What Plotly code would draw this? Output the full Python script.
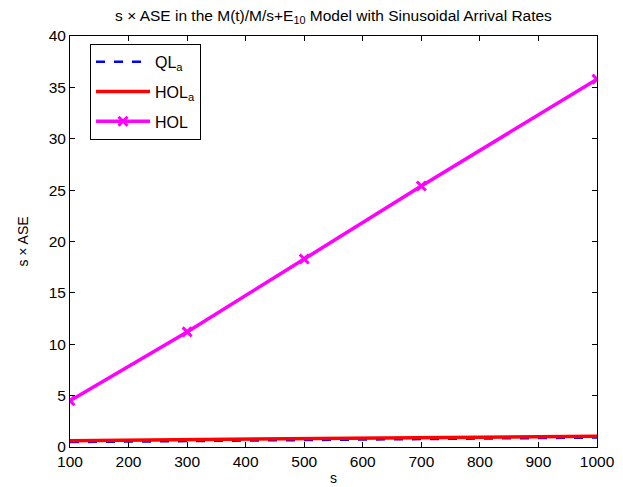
import plotly.graph_objects as go

s_vals = [100, 300, 500, 700, 1000]
ql_a = [0.48, 0.58, 0.68, 0.77, 0.92]
hol_a = [0.62, 0.72, 0.82, 0.91, 1.05]
hol = [4.5, 11.2, 18.3, 25.4, 35.8]

x_ticks = [100, 200, 300, 400, 500, 600, 700, 800, 900, 1000]
y_ticks = [0, 5, 10, 15, 20, 25, 30, 35, 40]

fig = go.Figure()
fig.add_trace(go.Scatter(x=s_vals, y=ql_a, mode="lines", name="QL<sub>a</sub>",
                         legendgroup="g1",
                         line=dict(color="#0000FF", width=2.5, dash="dash")))
fig.add_trace(go.Scatter(x=s_vals, y=hol_a, mode="lines", name="HOL<sub>a</sub>",
                         legendgroup="g2",
                         line=dict(color="#FF0000", width=3.5)))
fig.add_trace(go.Scatter(x=s_vals, y=hol, mode="lines+markers", name="HOL",
                         legendgroup="g3",
                         line=dict(color="#FF00FF", width=3.5),
                         marker=dict(symbol="x-thin", size=9, color="#FF00FF",
                                     line=dict(color="#FF00FF", width=3))))

axis_common = dict(showline=True, linecolor="black", linewidth=1, mirror="ticks",
                   ticks="inside", ticklen=5, tickcolor="black", showgrid=False,
                   zeroline=False, tickfont=dict(size=15.5, color="black"))

fig.update_layout(
    width=623, height=487,
    margin=dict(l=62, r=34, t=28, b=43),
    paper_bgcolor="white", plot_bgcolor="white",
    font=dict(family="Liberation Sans, Arial, sans-serif", color="black"),
    title=dict(text="s \u00d7 ASE in the M(t)/M/s+E<sub>10</sub> Model with Sinusoidal Arrival Rates",
               x=(62 + 589) / 2 / 623, xanchor="center", y=0.996, yanchor="top",
               font=dict(size=15.5)),
    xaxis=dict(range=[100, 1000], tickvals=x_ticks,
               title=dict(text="s", font=dict(size=14), standoff=4), **axis_common),
    yaxis=dict(range=[0, 40], tickvals=y_ticks,
               title=dict(text="s \u00d7 ASE", font=dict(size=14), standoff=16), **axis_common),
    legend=dict(x=0.038, y=0.981, xanchor="left", yanchor="top",
                bordercolor="black", borderwidth=1, bgcolor="white",
                itemwidth=54, tracegroupgap=6, font=dict(size=16)),
    showlegend=True,
)

fig.write_html("out.html")
